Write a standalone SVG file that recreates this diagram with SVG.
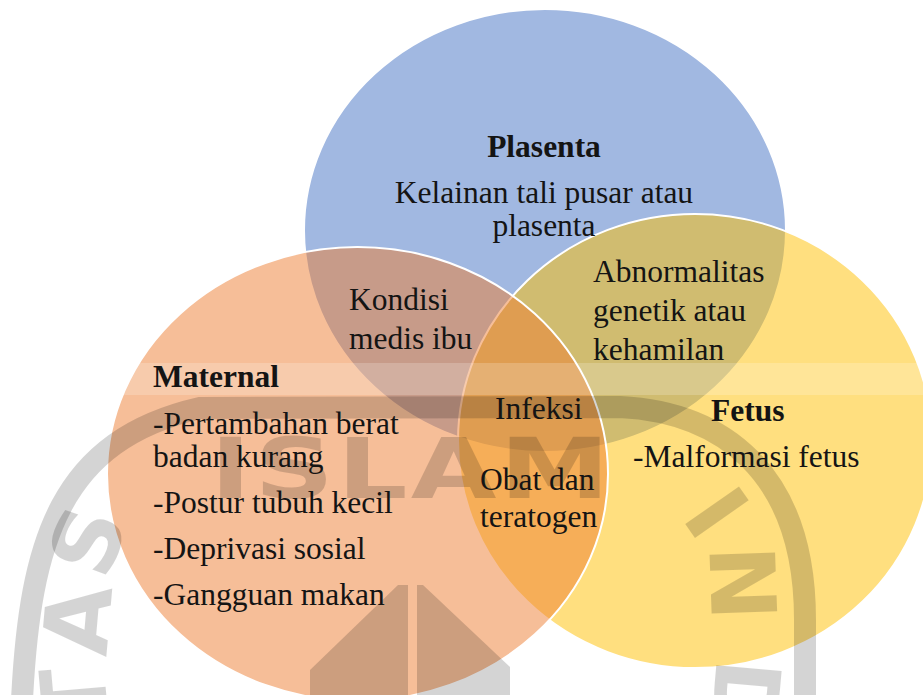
<svg xmlns="http://www.w3.org/2000/svg" width="923" height="695" viewBox="0 0 923 695">
  <style>
    .c { stroke: #ffffff; stroke-width: 2; }
    .t { font-family: "Liberation Serif", "Times New Roman", serif; font-size: 31.5px; fill: #141414; }
    .b { font-weight: bold; }
    .wm { fill: #000000; fill-opacity: 0.17; }
    .wmt { font-family: "DejaVu Sans", sans-serif; font-weight: bold; font-size: 90px; fill: #000000; fill-opacity: 0.17; }
  </style>
  <rect width="923" height="695" fill="#ffffff"/>
  <g id="plasenta">
    <ellipse class="c" cx="545" cy="230.5" rx="241" ry="221.5" fill="#4472C4" fill-opacity="0.5"/>
  </g>
  <g id="fetus">
    <ellipse class="c" cx="695" cy="441" rx="237" ry="227" fill="#FFC000" fill-opacity="0.5"/>
  </g>
  <g id="maternal">
    <ellipse class="c" cx="357.5" cy="474" rx="250.5" ry="227" fill="#ED7D31" fill-opacity="0.5"/>
  </g>
  <g id="watermark">
    <rect x="0" y="363" width="923" height="32" fill="#ffffff" fill-opacity="0.2"/>
    <path d="M 22 700 C 30 540 60 440 200 408 L 620 407 C 720 412 805 470 805 620 L 805 700" fill="none" stroke="#000000" stroke-opacity="0.17" stroke-width="22"/>
    <text class="wmt" style="font-size:84px" x="0" y="0" transform="translate(210,498) scale(1.32,1)" textLength="303" lengthAdjust="spacing">ISLAM</text>
    <text class="wmt" text-anchor="middle" dominant-baseline="central" transform="translate(88,541) rotate(-70)">S</text>
    <text class="wmt" text-anchor="middle" dominant-baseline="central" transform="translate(78,620) rotate(-85)">A</text>
    <text class="wmt" text-anchor="middle" dominant-baseline="central" transform="translate(75,698) rotate(-95)">T</text>
    <text class="wmt" text-anchor="middle" dominant-baseline="central" transform="translate(716,513) rotate(55)">I</text>
    <text class="wmt" text-anchor="middle" dominant-baseline="central" transform="translate(742,583) rotate(88)">N</text>
    <text class="wmt" text-anchor="middle" dominant-baseline="central" transform="translate(745,697) rotate(95)">D</text>
    <polygon class="wm" points="398,585 408,585 408,695 310,695 310,670"/>
    <polygon class="wm" points="417,585 423,585 510,667 510,695 417,695"/>
  </g>
  <g id="labels">
    <text class="t b" x="544" y="157" text-anchor="middle">Plasenta</text>
    <text class="t" x="544" y="203" text-anchor="middle">Kelainan tali pusar atau</text>
    <text class="t" x="544" y="236" text-anchor="middle">plasenta</text>
    <text class="t" x="349" y="310">Kondisi</text>
    <text class="t" x="349" y="349">medis ibu</text>
    <text class="t" x="593" y="282">Abnormalitas</text>
    <text class="t" x="593" y="321">genetik atau</text>
    <text class="t" x="593" y="360">kehamilan</text>
    <text class="t b" x="153" y="387">Maternal</text>
    <text class="t" x="495" y="419">Infeksi</text>
    <text class="t b" x="711" y="421">Fetus</text>
    <text class="t" x="153" y="434">-Pertambahan berat</text>
    <text class="t" x="153" y="467">badan kurang</text>
    <text class="t" x="153" y="513">-Postur tubuh kecil</text>
    <text class="t" x="153" y="559">-Deprivasi sosial</text>
    <text class="t" x="153" y="605">-Gangguan makan</text>
    <text class="t" x="633" y="467">-Malformasi fetus</text>
    <text class="t" x="480" y="490">Obat dan</text>
    <text class="t" x="480" y="527">teratogen</text>
  </g>
</svg>
